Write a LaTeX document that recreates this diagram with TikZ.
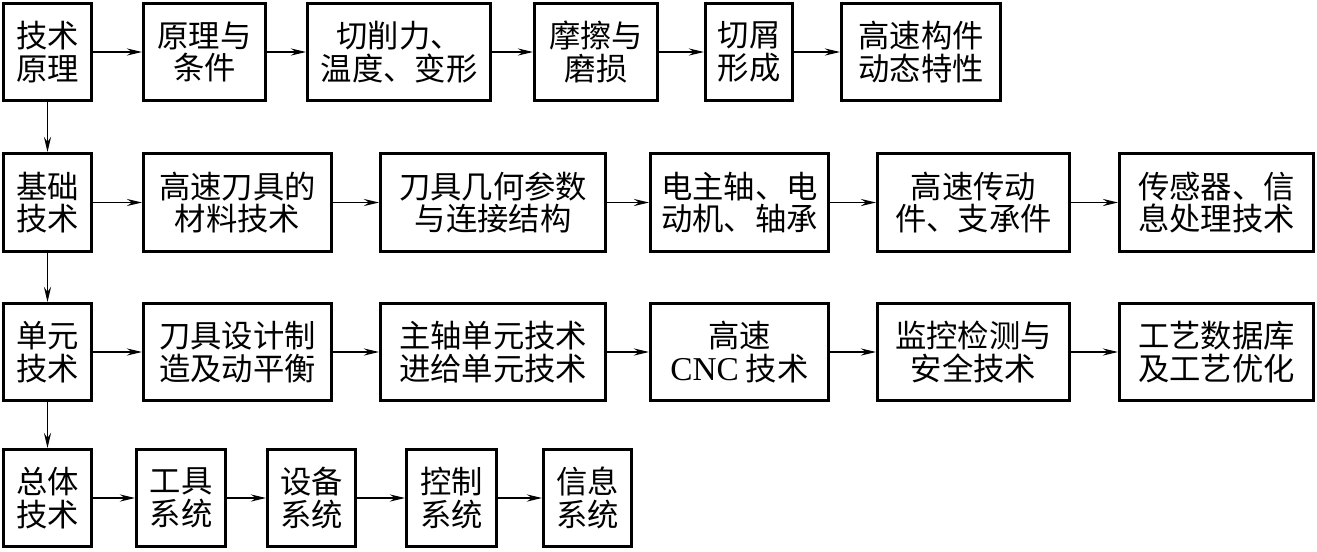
\documentclass[tikz,border=0pt]{standalone}
\usepackage{fontspec}
\setmainfont{Liberation Serif}
\newfontfamily\cjk{Noto Sans CJK SC}
\usetikzlibrary{arrows.meta}
\tikzset{
  box/.style={draw=black, line width=2pt, inner sep=0pt, align=center,
    font=\cjk\fontsize{23.5}{24.5}\selectfont, fill=white},
  arr/.style={line width=0.95pt, -{Stealth[length=11.5pt, width=5.4pt, inset=4pt]}}
}
\newcommand\bx[6]{%
  \node[box, minimum width={(#3-#2)*0.75pt-2pt}, minimum height={(#5-#4)*0.75pt-2pt}]
    (#1) at ({(#2+#3)/2},{(#4+#5)/2}) {#6};}
\begin{document}
\begin{tikzpicture}[x=0.75pt, y=-0.75pt]
\useasboundingbox[fill=white] (0,0) rectangle (1317,551);
% row 1
\bx{a1}{2}{93}{2}{102}{技术\\原理}
\bx{a2}{142}{267}{2}{102}{原理与\\条件}
\bx{a3}{306}{492}{2}{102}{切削力、\\温度、变形}
\bx{a4}{533}{659}{2}{102}{摩擦与\\磨损}
\bx{a5}{704}{794}{2}{102}{切屑\\形成}
\bx{a6}{840}{1002}{2}{102}{高速构件\\动态特性}
% row 2
\bx{b1}{2}{93}{152}{253}{基础\\技术}
\bx{b2}{142}{333}{152}{253}{高速刀具的\\材料技术}
\bx{b3}{379}{607}{152}{253}{刀具几何参数\\与连接结构}
\bx{b4}{649}{830}{152}{253}{电主轴、电\\动机、轴承}
\bx{b5}{876}{1071}{152}{253}{高速传动\\件、支承件}
\bx{b6}{1118}{1315}{152}{253}{传感器、信\\息处理技术}
% row 3
\bx{c1}{2}{93}{302}{402}{单元\\技术}
\bx{c2}{142}{333}{302}{402}{刀具设计制\\造及动平衡}
\bx{c3}{379}{607}{302}{402}{主轴单元技术\\进给单元技术}
\bx{c4}{649}{830}{302}{402}{高速\\{\rmfamily\fontsize{25}{24.5}\selectfont CNC} 技术}
\bx{c5}{876}{1071}{302}{402}{监控检测与\\安全技术}
\bx{c6}{1118}{1315}{302}{402}{工艺数据库\\及工艺优化}
% row 4
\bx{d1}{2}{93}{448}{548}{总体\\技术}
\bx{d2}{135}{227}{448}{548}{工具\\系统}
\bx{d3}{266}{357}{448}{548}{设备\\系统}
\bx{d4}{405}{498}{448}{548}{控制\\系统}
\bx{d5}{542}{633}{448}{548}{信息\\系统}
% connectors
\draw[arr] (a1) -- (a2);
\draw[arr] (a2) -- (a3);
\draw[arr] (a3) -- (a4);
\draw[arr] (a4) -- (a5);
\draw[arr] (a5) -- (a6);
\draw[arr] (b1) -- (b2);
\draw[arr] (b2) -- (b3);
\draw[arr] (b3) -- (b4);
\draw[arr] (b4) -- (b5);
\draw[arr] (b5) -- (b6);
\draw[arr] (c1) -- (c2);
\draw[arr] (c2) -- (c3);
\draw[arr] (c3) -- (c4);
\draw[arr] (c4) -- (c5);
\draw[arr] (c5) -- (c6);
\draw[arr] (d1) -- (d2);
\draw[arr] (d2) -- (d3);
\draw[arr] (d3) -- (d4);
\draw[arr] (d4) -- (d5);
\draw[arr] (a1) -- (b1);
\draw[arr] (b1) -- (c1);
\draw[arr] (c1) -- (d1);
\end{tikzpicture}
\end{document}
